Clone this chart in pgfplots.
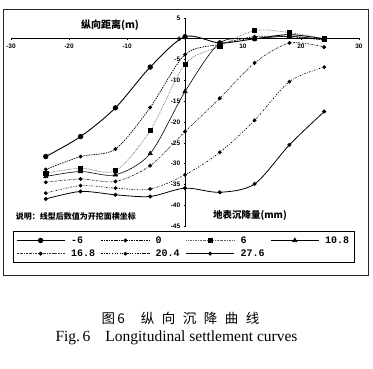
\documentclass[border=0pt]{standalone}
\usepackage{pgfplots}
\pgfplotsset{compat=1.18}
\usepackage{fontspec}
\setmainfont{Liberation Serif}
\newfontfamily\cjk{Noto Sans CJK SC}
\newfontfamily\tickf{Liberation Sans}
\newfontfamily\legf{Liberation Mono}
\begin{document}
\begin{tikzpicture}[x=1pt,y=1pt]
\path (0,0) rectangle (373,369);
\draw[line width=0.9pt, black!85] (3,360) rectangle (368,94);
\begin{axis}[
  at={(11pt,143pt)}, anchor=south west, scale only axis,
  width=348pt, height=208pt,
  xmin=-30, xmax=30, ymin=-45, ymax=5,
  axis lines=middle, axis line style={-, line width=0.8pt},
  xtick={-30,-20,-10,10,20,30},
  ytick={5,-5,-10,-15,-20,-25,-30,-35,-40,-45},
  tick style={black, line width=0.5pt}, major tick length=2.5pt,
  tick label style={font=\tickf\bfseries\fontsize{6.5}{7}\selectfont},
  /pgf/number format/assume math mode=true,
  legend style={at={(0.005,-0.024)}, anchor=north west, draw=black,
    line width=0.8pt, inner sep=3pt, row sep=1pt,
    font=\legf\bfseries\fontsize{10}{11}\selectfont,
    /tikz/every even column/.append style={column sep=4pt}},
  legend columns=4, legend cell align=left,
  legend image code/.code={\draw[mark repeat=2,mark phase=2,#1] plot coordinates {(0pt,0pt) (24pt,0pt) (48pt,0pt)};},
]
\addplot[black, line width=0.9pt, smooth, mark=*, mark size=2.2pt, mark options={solid}]
  coordinates {(-24,-28.3) (-18,-23.5) (-12,-16.6) (-6,-6.8) (0,0.5) (6,-1) (12,0) (18,1) (24,0)};
\addlegendentry{\hspace{4pt}\makebox[24pt][l]{-6}}
\addplot[black, line width=0.7pt, smooth, dash pattern=on 1.5pt off 1pt, mark=*, mark size=1.6pt, mark options={solid}]
  coordinates {(-24,-31.4) (-18,-28.3) (-12,-26.5) (-6,-16.5) (0,-3.8) (6,-1.3) (12,0.5) (18,0.5) (24,-0.3)};
\addlegendentry{\hspace{4pt}\makebox[24pt][l]{0}}
\addplot[black!60, line width=0.7pt, smooth, densely dotted, mark=square*, mark size=2.1pt, mark options={solid,black}]
  coordinates {(-24,-32.3) (-18,-31.1) (-12,-31.7) (-6,-22.1) (0,-6.1) (6,-1.8) (12,2) (18,1.5) (24,0)};
\addlegendentry{\hspace{4pt}\makebox[24pt][l]{6}}
\addplot[black, line width=0.6pt, smooth, mark=triangle*, mark size=2.5pt, mark options={solid}]
  coordinates {(-24,-33.1) (-18,-31.9) (-12,-32.7) (-6,-27.6) (0,-12.7) (6,-1) (12,0) (18,0.6) (24,-0.2)};
\addlegendentry{\hspace{4pt}\makebox[24pt][l]{10.8}}
\addplot[black!80, line width=0.7pt, smooth, dash pattern=on 2pt off 1pt on 0.6pt off 1pt, mark=*, mark size=1.6pt, mark options={solid,black}]
  coordinates {(-24,-34.5) (-18,-33.7) (-12,-34.3) (-6,-30.5) (0,-22.3) (6,-14.3) (12,-5.8) (18,-1) (24,-2)};
\addlegendentry{\hspace{4pt}\makebox[24pt][l]{16.8}}
\addplot[black, line width=0.7pt, smooth, dash pattern=on 1.5pt off 1.5pt on 0.6pt off 1.5pt, mark=*, mark size=1.5pt, mark options={solid}]
  coordinates {(-24,-37.1) (-18,-35.3) (-12,-35.9) (-6,-36.1) (0,-32.7) (6,-27.3) (12,-19.6) (18,-10.3) (24,-6.8)};
\addlegendentry{\hspace{4pt}\makebox[24pt][l]{20.4}}
\addplot[black, line width=0.8pt, smooth, mark=*, mark size=1.6pt, mark options={solid}]
  coordinates {(-24,-38.5) (-18,-36.7) (-12,-37.5) (-6,-37.9) (0,-35.9) (6,-36.9) (12,-34.9) (18,-25.5) (24,-17.5)};
\addlegendentry{\hspace{4pt}\makebox[24pt][l]{27.6}}
\node[anchor=east, inner sep=1pt, font=\tickf\bfseries\fontsize{6.5}{7}\selectfont] at (axis cs:-0.5,0) {0};
\end{axis}
\node[font=\cjk\bfseries\fontsize{10}{12}\selectfont] at (110,344) {纵向距离(m)};
\node[font=\cjk\bfseries\fontsize{8}{10}\selectfont] at (76,152.5) {说明：线型后数值为开挖面横坐标};
\node[font=\cjk\bfseries\fontsize{9.5}{11}\selectfont] at (250,154) {地表沉降量(mm)};
\node[font=\cjk\fontsize{13.5}{15}\selectfont] at (180.5,51) {图\,6\hspace{16pt}纵\hspace{7.5pt}向\hspace{7.5pt}沉\hspace{7.5pt}降\hspace{7.5pt}曲\hspace{7.5pt}线};
\node[font=\fontsize{15.5}{17}\selectfont] at (176.5,31) {Fig.\,6\hspace{15pt}Longitudinal settlement curves};
\end{tikzpicture}
\end{document}
